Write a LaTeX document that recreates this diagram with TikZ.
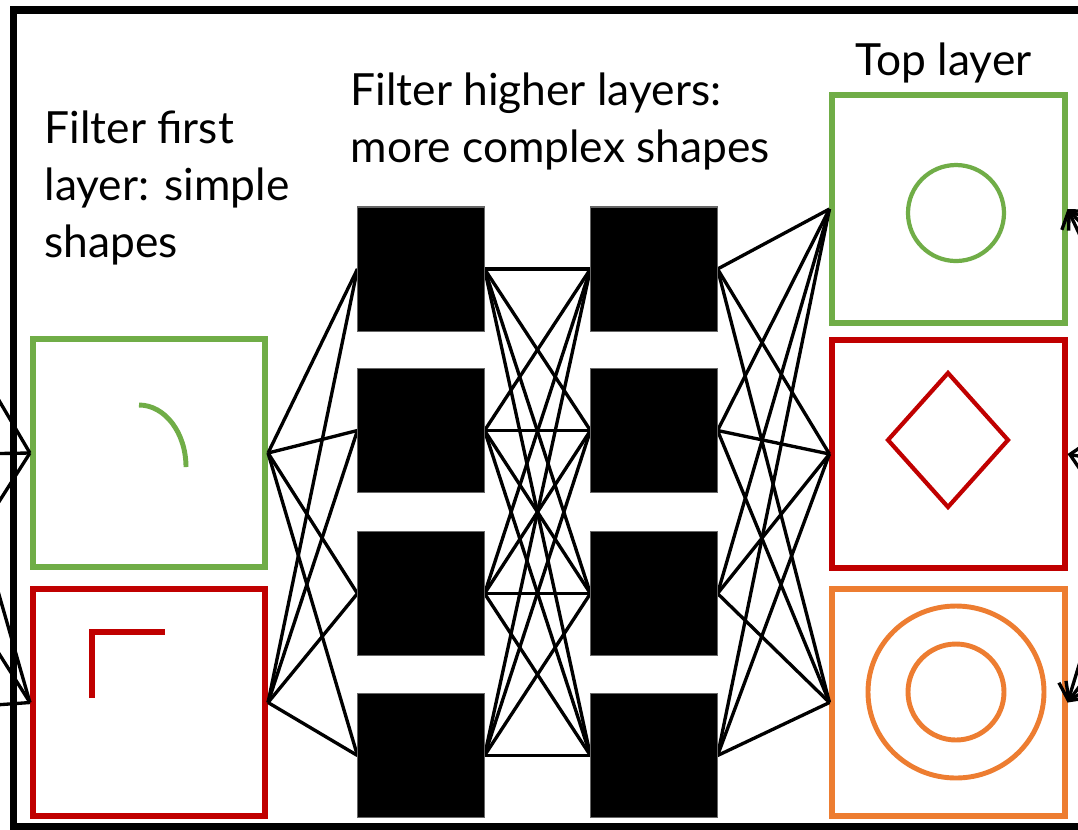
\documentclass[tikz,border=0pt]{standalone}
\usepackage{fontspec}
\setmainfont{Lato}
\usetikzlibrary{arrows.meta}
\definecolor{cgreen}{HTML}{70AD47}
\definecolor{cred}{HTML}{C00000}
\definecolor{corange}{HTML}{ED7D31}
\begin{document}
\begin{tikzpicture}[x=0.01cm,y=-0.01cm,
  fbox/.style={draw, line width=1.7pt, minimum width=2.32cm, minimum height=2.27cm, inner sep=0pt},
  bbox/.style={fill=black, draw=black!60, line width=0.3pt, minimum width=1.26cm, minimum height=1.24cm, inner sep=0pt},
  conn/.style={line width=0.95pt},
  inarrow/.style={line width=0.95pt, -{Straight Barb[length=4pt,width=8pt]}},
  lbl/.style={font=\fontsize{12.6}{16.2}\selectfont, align=left, anchor=base west, inner sep=0pt},
  shp/.style={line width=1.2pt},
]
\useasboundingbox (0,0) rectangle (1078,829);
\fill[white] (0,0) rectangle (1078,829);
\begin{scope}
\clip (0,0) rectangle (1078,829);
% nodes
\node[fbox, draw=cgreen] (g1) at (149,453) {};
\node[fbox, draw=cred] (r1) at (149,702.5) {};
\foreach \i/\y in {1/269,2/430.5,3/593.5,4/755.5}{
  \node[bbox] (a\i) at (421,\y) {};
  \node[bbox] (b\i) at (654,\y) {};
}
\node[fbox, draw=cgreen, minimum height=2.28cm] (tg) at (948.5,209) {};
\node[fbox, draw=cred, minimum height=2.28cm] (tr) at (948.5,454) {};
\node[fbox, draw=corange] (to) at (948.5,702.5) {};
% off-picture ends
\coordinate (p1) at (-33,346);
\coordinate (p2) at (-33,454);
\coordinate (p3) at (-33,552);
\coordinate (p4) at (-33,483);
\coordinate (p5) at (-33,603);
\coordinate (p6) at (-33,707);
\coordinate (q1) at (1110,254);
\coordinate (q2) at (1110,299);
\coordinate (q3) at (1110,462);
\coordinate (q4) at (1110,564);
\coordinate (q5) at (1110,645);
% connectors
\foreach \p in {p1,p2,p3} \draw[conn] (\p) -- (g1.west);
\foreach \p in {p4,p5,p6} \draw[conn] (\p) -- (r1.west);
\foreach \s in {g1,r1}{\foreach \t in {a1,a2,a3,a4} \draw[conn] (\s.east) -- (\t.west);}
\foreach \s in {a1,a2,a3,a4}{\foreach \t in {b1,b2,b3,b4} \draw[conn] (\s.east) -- (\t.west);}
\foreach \s in {b1,b2,b3,b4}{\foreach \t in {tg,tr,to} \draw[conn] (\s.east) -- (\t.west);}
\draw[inarrow] (q1) -- (tg.east);
\draw[inarrow] (q2) -- (tg.east);
\draw[inarrow] (q3) -- (tr.east);
\draw[inarrow] (q4) -- (to.east);
\draw[inarrow] (q5) -- (to.east);
% redraw boxes on top
\foreach \i in {1,2,3,4}{\node[bbox] at (a\i) {}; \node[bbox] at (b\i) {};}
% inner shapes
\draw[cgreen, line width=1.4pt] (139,405) arc[start angle=-90, end angle=0, x radius=47, y radius=62];
\draw[cred, line width=1.7pt] (92,698) -- (92,632) -- (165,632);
\draw[cgreen, shp] (956,213) circle[radius=48];
\draw[cred, shp] (888,440) -- (948,373) -- (1008,440) -- (948,507) -- cycle;
\draw[corange, line width=1.4pt] (956,692) ellipse[x radius=88, y radius=86];
\draw[corange, line width=1.4pt] (956,692) circle[radius=48];
% frame
\draw[line width=2pt] (1200,10) -- (13.5,10) -- (13.5,826.5) -- (1200,826.5);
% labels
\node[lbl] (t1) at (44,257) {Filter first\\layer: simple\\shapes};
\node[lbl] (t2) at (350,162) {Filter higher layers:\\more complex shapes};
\node[lbl] (t3) at (855,75) {Top layer};
\end{scope}
\end{tikzpicture}
\end{document}
